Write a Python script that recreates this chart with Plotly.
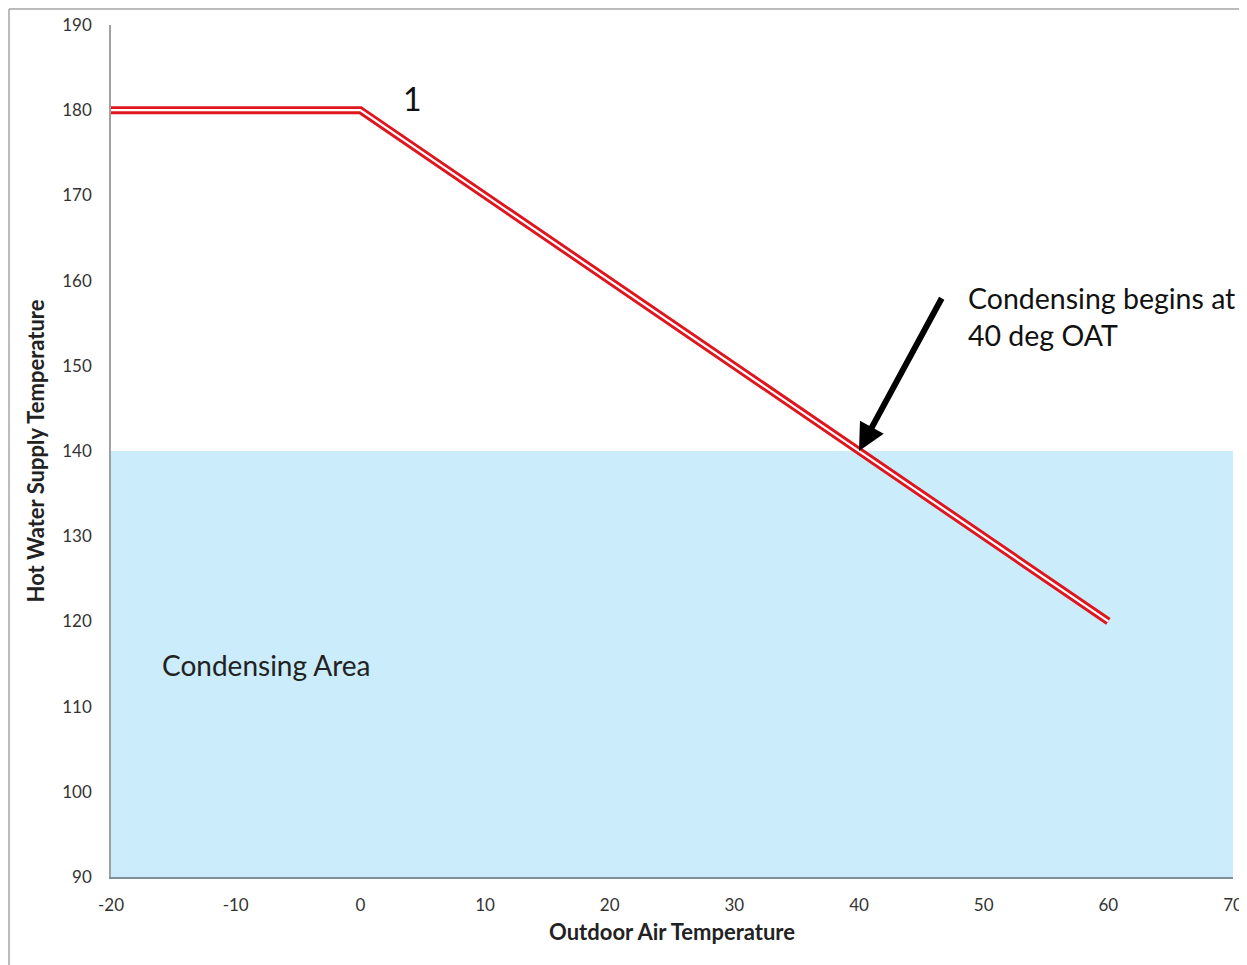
import plotly.graph_objects as go

# Data
oat = [-20, 0, 60]
hwst = [180, 180, 120]
area_x = [-20, 70]
area_y = [140, 140]
x_ticks = [-20, -10, 0, 10, 20, 30, 40, 50, 60, 70]
y_ticks = [90, 100, 110, 120, 130, 140, 150, 160, 170, 180, 190]

FONT = "Lato"

fig = go.Figure()
fig.add_trace(go.Scatter(x=area_x, y=area_y, fill="tozeroy", mode="none",
                         fillcolor="rgb(203,236,250)", showlegend=False, hoverinfo="skip"))
fig.add_trace(go.Scatter(x=oat, y=hwst, mode="lines",
                         line=dict(color="#E0161E", width=8), showlegend=False))
fig.add_trace(go.Scatter(x=oat, y=hwst, mode="lines",
                         line=dict(color="#FFFFFF", width=2.2), showlegend=False))

fig.add_annotation(x=40, y=140, ax=46.7, ay=158.1, axref="x", ayref="y", xref="x", yref="y",
                   text="", showarrow=True, arrowhead=2, arrowwidth=6, arrowsize=0.9,
                   arrowcolor="#000000", standoff=0)
fig.add_annotation(x=48.6, y=155.8, xref="x", yref="y", text="Condensing begins at<br>40 deg OAT",
                   showarrow=False, xanchor="left", yanchor="middle", align="left",
                   font=dict(family=FONT, size=28.5, color="#111111"))
fig.add_annotation(x=4.2, y=181.4, xref="x", yref="y", text="1", showarrow=False,
                   font=dict(family=FONT, size=32, color="#111111"))
fig.add_annotation(x=-16.1, y=114.9, xref="x", yref="y", text="Condensing Area", showarrow=False,
                   xanchor="left", yanchor="middle",
                   font=dict(family=FONT, size=28, color="#222222"))

# outer frame lines (top and left)
fig.add_shape(type="line", xref="paper", yref="paper", x0=-0.0909, x1=1.0125, y0=1.0188, y1=1.0188,
              line=dict(color="#A6A6A6", width=1.5))
fig.add_shape(type="line", xref="paper", yref="paper", x0=-0.0909, x1=-0.0909, y0=1.0188, y1=-0.11,
              line=dict(color="#A6A6A6", width=1.5))

fig.update_xaxes(range=[-20, 70], tickvals=x_ticks, ticktext=[str(v) for v in x_ticks],
                 showgrid=False, zeroline=False, showline=True, linecolor="#7F8F9A", linewidth=1.5,
                 ticks="", ticklabelstandoff=12, automargin=False,
                 tickfont=dict(family=FONT, size=17, color="#333333"),
                 title=dict(text="<b>Outdoor Air Temperature</b>", standoff=10,
                            font=dict(family=FONT, size=22, color="#222222")))
fig.update_yaxes(range=[90, 190], tickvals=y_ticks, ticktext=[str(v) for v in y_ticks],
                 showgrid=False, zeroline=False, showline=True, linecolor="#A0A0A0", linewidth=1.5,
                 ticks="", ticklabelstandoff=14, automargin=False,
                 tickfont=dict(family=FONT, size=17, color="#333333"),
                 title=dict(text="<b>Hot Water Supply Temperature</b>", standoff=12,
                            font=dict(family=FONT, size=22, color="#222222")))

fig.update_layout(width=1239, height=957, margin=dict(l=103, r=14, t=17, b=88),
                  autosize=False,
                  plot_bgcolor="white", paper_bgcolor="white", showlegend=False)

fig.write_html("out.html")
